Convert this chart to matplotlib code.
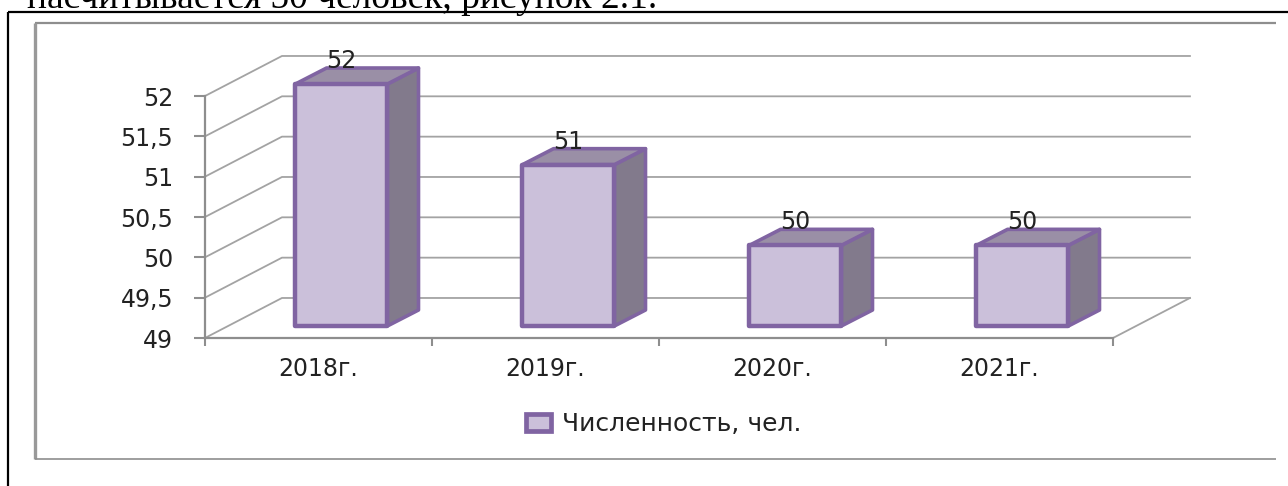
import numpy as np
import matplotlib
matplotlib.use("Agg")
import matplotlib.pyplot as plt
from matplotlib.lines import Line2D
from matplotlib.patches import Patch, Polygon

categories = ["2018г.", "2019г.", "2020г.", "2021г."]
values = [52, 51, 50, 50]
y_ticks = [49, 49.5, 50, 50.5, 51, 51.5, 52]
y_tick_labels = ["49", "49,5", "50", "50,5", "51", "51,5", "52"]
series_name = "Численность, чел."
page_text = "насчитывается 50 человек, рисунок 2.1."

W, H = 1288, 486
FACE = "#CBC0DA"
SIDE = "#827A8C"
TOP = "#9A8FA6"
EDGE = "#8064A2"
GRID = "#A3A3A3"
AXIS = "#8E8E8E"
TEXT = "#222222"
FS = 17

plt.rcParams["font.family"] = ["DejaVu Sans"]


def fig_line(fig, x0, y0, x1, y1, color, lw):
    # pixel coordinates, measured from the top left
    fig.add_artist(Line2D([x0 / W, x1 / W], [1 - y0 / H, 1 - y1 / H], color=color, lw=lw,
                          solid_capstyle="butt"))


def main():
    fig = plt.figure(figsize=(W / 100, H / 100), dpi=100)
    ax = fig.add_axes([205 / W, (H - 338) / H, 908 / W, 242 / H])
    ax.patch.set_alpha(0)
    ax.set_xlim(0, len(categories))
    ax.set_ylim(49, 52)

    # page text and the frames around the chart
    fig.text(27 / W, 1 - 8 / H, page_text, family="Liberation Serif", fontsize=27,
             color="black", va="baseline", ha="left")
    fig_line(fig, 8, 12, W, 12, "black", 1.6)
    fig_line(fig, 8, 12, 8, H, "black", 1.6)
    fig_line(fig, 35, 23, 1276, 23, AXIS, 1.6)
    fig_line(fig, 35, 23, 35, 459, "#999999", 2.4)
    fig_line(fig, 35, 459, 1276, 459, AXIS, 1.2)

    # depth of the 3d box, in axis units
    wall_dx, wall_dy = 0.339, 0.496
    bar_dx, bar_dy = 0.137, 0.198
    shift_x, shift_y = 0.101, 0.149
    bar_w = 0.405
    n = len(categories)

    for t in y_ticks:
        ax.plot([0, wall_dx, n + wall_dx], [t, t + wall_dy, t + wall_dy], color=GRID, lw=1.3,
                clip_on=False, zorder=1)
    ax.plot([n, n + wall_dx], [49, 49 + wall_dy], color=GRID, lw=1.3, clip_on=False, zorder=1)

    x = np.arange(n) + 0.5 + shift_x
    base = y_ticks[0] + shift_y
    heights = [v - y_ticks[0] for v in values]
    ax.bar(x, heights, width=bar_w, bottom=base, color=FACE, edgecolor=EDGE, linewidth=3.2,
           clip_on=False, zorder=4, joinstyle="round")

    for xi, v in zip(x, values):
        left, right = xi - bar_w / 2, xi + bar_w / 2
        top = v + shift_y
        side = [(right, base), (right + bar_dx, base + bar_dy),
                (right + bar_dx, top + bar_dy), (right, top)]
        lid = [(left, top), (left + bar_dx, top + bar_dy),
               (right + bar_dx, top + bar_dy), (right, top)]
        for pts, col in ((side, SIDE), (lid, TOP)):
            ax.add_patch(Polygon(pts, closed=True, facecolor=col, edgecolor=EDGE, linewidth=2.6,
                                 joinstyle="round", clip_on=False, zorder=3))
        ax.annotate(str(v), xy=(xi, top), xytext=(0, 16.5), textcoords="offset points",
                    ha="center", va="center", fontsize=FS, color=TEXT, zorder=6,
                    annotation_clip=False)

    for name in ("top", "right"):
        ax.spines[name].set_visible(False)
    for name in ("left", "bottom"):
        ax.spines[name].set_color(AXIS)
        ax.spines[name].set_linewidth(1.6)

    ax.set_yticks(y_ticks)
    ax.set_yticklabels(y_tick_labels, fontsize=FS, color=TEXT)
    ax.tick_params(axis="y", length=8, width=1.5, color=AXIS, pad=15)
    ax.set_xticks(np.arange(n + 1))
    ax.set_xticklabels([])
    ax.set_xticks(np.arange(n) + 0.5, minor=True)
    ax.set_xticklabels(categories, minor=True, fontsize=FS, color=TEXT)
    ax.tick_params(axis="x", which="major", length=6, width=1.5, color=AXIS)
    ax.tick_params(axis="x", which="minor", length=0, pad=14)

    handle = Patch(facecolor=FACE, edgecolor=EDGE, linewidth=3.4, label=series_name)
    fig.legend(handles=[handle], loc="center", bbox_to_anchor=(664 / W, 1 - 424 / H), frameon=False,
               fontsize=FS + 1, labelcolor=TEXT, handlelength=1.0, handleheight=0.65, handletextpad=0.45,
               borderpad=0)

    fig.savefig("out.png", dpi=100)
    plt.close(fig)


if __name__ == "__main__":
    main()
